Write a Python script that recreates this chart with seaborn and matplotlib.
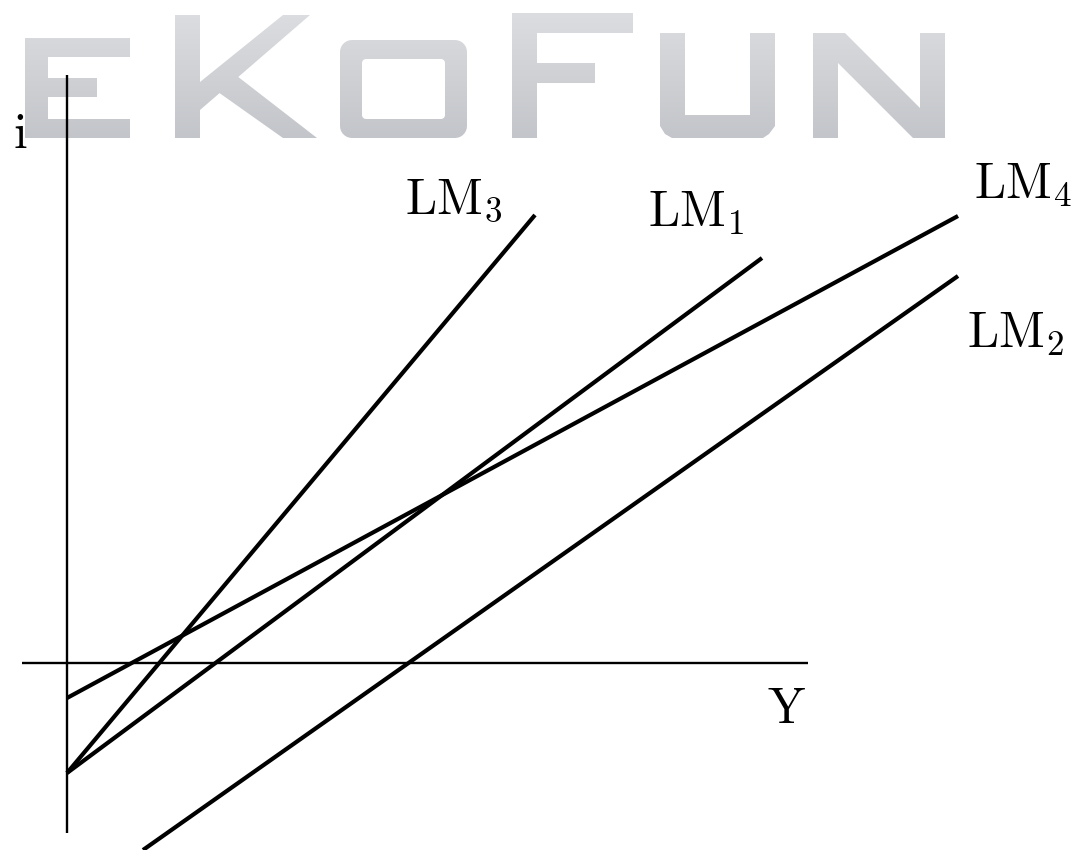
import numpy as np
import pandas as pd
import matplotlib
matplotlib.use("Agg")
import matplotlib.pyplot as plt
from matplotlib.path import Path
from matplotlib.patches import PathPatch
import seaborn as sns

# ---- LM curves: endpoints in (Y, i) units, origin at the axes crossing ----
curves = ["LM3", "LM1", "LM4", "LM2"]
lm3_Y = [0.00, 4.68]
lm3_i = [-1.10, 4.48]
lm1_Y = [0.00, 6.95]
lm1_i = [-1.10, 4.05]
lm4_Y = [0.00, 8.91]
lm4_i = [-0.35, 4.47]
lm2_Y = [0.76, 8.91]
lm2_i = [-1.87, 3.87]

# coordinate axes extents
yaxis_i = [-1.70, 5.88]   # vertical (i) axis, drawn at Y = 0
xaxis_Y = [-0.45, 7.41]   # horizontal (Y) axis, drawn at i = 0

curve_labels = [r"$\mathrm{LM}_3$", r"$\mathrm{LM}_1$", r"$\mathrm{LM}_4$", r"$\mathrm{LM}_2$"]
label_pos = [(3.38, 4.50), (5.81, 4.37), (9.07, 4.65), (9.00, 3.16)]

df = pd.concat([
    pd.DataFrame({"Y": y, "i": i, "curve": c})
    for c, y, i in zip(curves, [lm3_Y, lm1_Y, lm4_Y, lm2_Y], [lm3_i, lm1_i, lm4_i, lm2_i])
], ignore_index=True)

sns.set_theme(style="white")
plt.rcParams["mathtext.fontset"] = "cm"
plt.rcParams["font.family"] = ["DejaVu Serif"]

W, H = 1075, 850
fig = plt.figure(figsize=(W / 100, H / 100), dpi=100)
fig.patch.set_facecolor("white")

# ---- watermark layer (pixel space) ----
wm = fig.add_axes([0, 0, 1, 1], zorder=0)
wm.set_xlim(0, W)
wm.set_ylim(H, 0)
wm.axis("off")


def poly(pts):
    pts = list(pts)
    verts = pts + [pts[0]]
    codes = [Path.MOVETO] + [Path.LINETO] * (len(pts) - 1) + [Path.CLOSEPOLY]
    return Path(verts, codes)


def rounded_rect(x0, y0, x1, y1, r, n=8, reverse=False):
    pts = []
    corners = [(x1 - r, y0 + r, -90, 0), (x1 - r, y1 - r, 0, 90),
               (x0 + r, y1 - r, 90, 180), (x0 + r, y0 + r, 180, 270)]
    for cx, cy, a0, a1 in corners:
        for a in np.linspace(np.radians(a0), np.radians(a1), n):
            pts.append((cx + r * np.cos(a), cy + r * np.sin(a)))
    if reverse:
        pts = pts[::-1]
    return poly(pts)


letters = [
    # E
    poly([(25, 38), (130, 38), (130, 57), (48, 57), (48, 78), (97, 78), (97, 97),
          (48, 97), (48, 119), (130, 119), (130, 138), (25, 138)]),
    # K
    poly([(175, 15), (200, 15), (200, 138), (175, 138)]),
    poly([(200, 82), (283, 15), (310, 15), (200, 110)]),
    poly([(218, 92), (237, 76), (317, 138), (283, 138)]),
    # O
    rounded_rect(340, 40, 467, 138, 12),
    rounded_rect(362, 59, 445, 119, 4, reverse=True),
    # F
    poly([(512, 13), (633, 13), (633, 33), (537, 33), (537, 63), (595, 63),
          (595, 83), (537, 83), (537, 138), (512, 138)]),
    # U
    poly([(660, 33), (685, 33), (685, 115), (750, 115), (750, 33), (775, 33),
          (775, 126), (769, 134), (763, 138), (672, 138), (665, 134), (660, 126)]),
    # N
    poly([(813, 33), (845, 33), (920, 108), (920, 33), (945, 33), (945, 138),
          (913, 138), (838, 63), (838, 138), (813, 138)]),
]
mark = Path.make_compound_path(*letters)

# soft silver gradient: lighter at the top, deeper grey towards the bottom
ny, nx = 150, W
ty = np.linspace(0, 1, ny)[:, None]
tx = np.linspace(0, 1, nx)[None, :]
light = np.array([0.885, 0.89, 0.90])
dark = np.array([0.74, 0.75, 0.77])
mix = np.clip(0.10 + 0.80 * ty + 0.0 * tx, 0, 1)[..., None]
grad = light * (1 - mix) + dark * mix
img = wm.imshow(grad, extent=(0, W, 150, 0), aspect="auto", interpolation="bilinear", zorder=0)
img.set_clip_path(PathPatch(mark, transform=wm.transData))

# ---- diagram layer ----
ax = fig.add_axes([0, 0, 1, 1], zorder=1)
ax.set_facecolor("none")
ax.set_xlim(-0.67, W / 100 - 0.67)
ax.set_ylim(-1.87, H / 100 - 1.87)
ax.axis("off")

ax.plot([0, 0], yaxis_i, color="black", lw=1.7, solid_capstyle="butt")
ax.plot(xaxis_Y, [0, 0], color="black", lw=1.7, solid_capstyle="butt")

sns.lineplot(data=df, x="Y", y="i", units="curve", estimator=None, sort=False,
             color="black", linewidth=3.0, solid_capstyle="butt", legend=False, ax=ax)
ax.axis("off")

for lab, (x, y) in zip(curve_labels, label_pos):
    ax.text(x, y, lab, fontsize=36, color="black", ha="left", va="baseline")

ax.text(7.00, -0.60, r"$\mathrm{Y}$", fontsize=36, color="black", ha="left", va="baseline")
ax.text(-0.54, 5.15, r"$\mathrm{i}$", fontsize=36, color="black", ha="left", va="baseline")

fig.savefig("out.png", dpi=100, facecolor="white")
